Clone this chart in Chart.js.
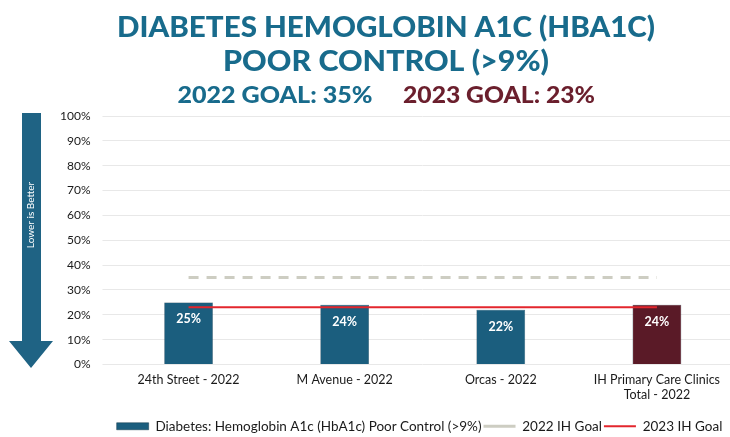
<!DOCTYPE html>
<html>
<head>
<meta charset="utf-8">
<script src="https://cdn.jsdelivr.net/npm/chart.js@4"></script>
<style>
  html, body { margin: 0; padding: 0; background: #fff; overflow: hidden; width: 730px; height: 437px; }
  #wrap { width: 735px; height: 443px; position: relative; }
</style>
</head>
<body>
<div id="wrap"><canvas id="hba1cChart"></canvas></div>
<script>
// data
const categories = ['24th Street - 2022', 'M Avenue - 2022', 'Orcas - 2022', ['IH Primary Care Clinics', 'Total - 2022']];
const poorControl = [25, 24, 22, 24];
const goal2022 = [35, 35, 35, 35];
const goal2023 = [23, 23, 23, 23];
const yTicks = [0, 10, 20, 30, 40, 50, 60, 70, 80, 90, 100];

const blue = '#1b5e7e';
const maroon = '#5a1a27';
const titleBlue = '#186b8c';
const font = 'Lato, "Open Sans", sans-serif';

// draw text centred at cx, stretched to a given width
function fitText(ctx, text, cx, y, width) {
  const w = ctx.measureText(text).width;
  ctx.save();
  ctx.translate(cx, y);
  ctx.scale(width / w, 1);
  ctx.fillText(text, 0, 0);
  ctx.restore();
}

// title + "Lower is Better" arrow, drawn on the canvas
const decorPlugin = {
  id: 'decor',
  afterLayout(chart) {
    // legend sits a bit right of centre in the original
    chart.legend.left += 28;
    chart.legend.right += 28;
  },
  beforeDraw(chart) {
    const ctx = chart.ctx;
    ctx.save();
    ctx.textAlign = 'center';
    ctx.textBaseline = 'middle';
    ctx.fillStyle = titleBlue;
    ctx.font = '900 29px ' + font;
    fitText(ctx, 'DIABETES HEMOGLOBIN A1C (HBA1C)', 386, 28, 538);
    fitText(ctx, 'POOR CONTROL (>9%)', 386, 62, 326);

    ctx.font = '900 23px ' + font;
    fitText(ctx, '2022 GOAL: 35%', 275, 96, 195);
    ctx.fillStyle = '#6b1f2d';
    fitText(ctx, '2023 GOAL: 23%', 499, 96, 192);

    // arrow
    ctx.fillStyle = '#1f6384';
    ctx.beginPath();
    ctx.moveTo(22, 113);
    ctx.lineTo(41, 113);
    ctx.lineTo(41, 341);
    ctx.lineTo(53, 341);
    ctx.lineTo(31, 368);
    ctx.lineTo(9, 341);
    ctx.lineTo(22, 341);
    ctx.closePath();
    ctx.fill();

    ctx.translate(31, 215);
    ctx.rotate(-Math.PI / 2);
    ctx.fillStyle = '#ffffff';
    ctx.font = '10px ' + font;
    ctx.fillText('Lower is Better', 0, 0);
    ctx.restore();
  }
};

// white value labels inside the bars
const valueLabels = {
  id: 'valueLabels',
  afterDatasetsDraw(chart) {
    const ctx = chart.ctx;
    const meta = chart.getDatasetMeta(0);
    ctx.save();
    ctx.fillStyle = '#ffffff';
    ctx.font = 'bold 12.5px ' + font;
    ctx.textAlign = 'center';
    ctx.textBaseline = 'middle';
    meta.data.forEach((bar, i) => {
      ctx.fillText(poorControl[i] + '%', bar.x, bar.y + 17);
    });
    ctx.restore();
  }
};

new Chart(document.getElementById('hba1cChart'), {
  data: {
    labels: categories,
    datasets: [
      {
        type: 'bar',
        label: 'Diabetes: Hemoglobin A1c (HbA1c) Poor Control (>9%)',
        data: poorControl,
        backgroundColor: [blue, blue, blue, maroon],
        borderColor: '#17384a',
        borderWidth: 0.5,
        barPercentage: 0.39,
        categoryPercentage: 0.8,
        pointStyle: 'rect',
        order: 3
      },
      {
        type: 'line',
        label: '2022 IH Goal',
        data: goal2022,
        borderColor: '#cdcdc2',
        borderWidth: 3,
        borderDash: [10, 8],
        pointRadius: 0,
        pointStyle: 'line',
        fill: false,
        order: 2
      },
      {
        type: 'line',
        label: '2023 IH Goal',
        data: goal2023,
        borderColor: '#e3262d',
        borderWidth: 2,
        pointRadius: 0,
        pointStyle: 'line',
        fill: false,
        order: 1
      }
    ]
  },
  options: {
    responsive: true,
    maintainAspectRatio: false,
    animation: false,
    layout: { padding: { top: 116, left: 48, right: 0, bottom: 0 } },
    scales: {
      x: {
        grid: { display: false },
        border: { display: false },
        afterFit(axis) {
          axis.height = 53;
        },
        ticks: {
          color: '#1a1a1a',
          font: { family: font, size: 12.5 },
          maxRotation: 0,
          autoSkip: false,
          padding: 0
        }
      },
      y: {
        min: 0,
        max: 100,
        afterBuildTicks(axis) {
          axis.ticks = yTicks.map(v => ({ value: v }));
        },
        grid: { color: '#e8e8e8', lineWidth: 1 },
        border: { display: false },
        ticks: {
          color: '#1a1a1a',
          font: { family: font, size: 12 },
          padding: 12,
          callback: v => v + '%'
        }
      }
    },
    plugins: {
      legend: {
        position: 'bottom',
        labels: {
          usePointStyle: true,
          pointStyleWidth: 32,
          boxHeight: 7,
          color: '#1a1a1a',
          font: { family: font, size: 13.5 },
          padding: 2,
          sort: (a, b) => a.datasetIndex - b.datasetIndex
        }
      },
      tooltip: { enabled: false }
    }
  },
  plugins: [decorPlugin, valueLabels]
});
</script>
</body>
</html>
